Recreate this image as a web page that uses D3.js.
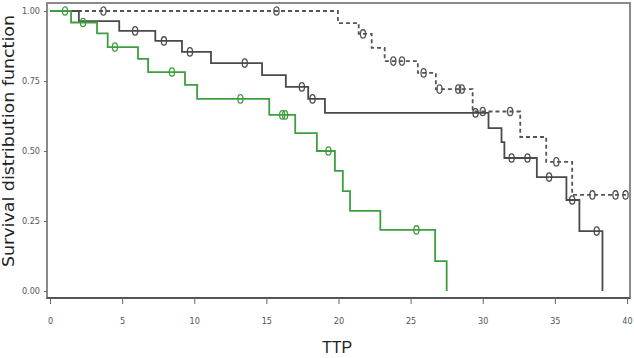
<!DOCTYPE html>
<html>
<head>
<meta charset="utf-8">
<script src="https://cdn.jsdelivr.net/npm/d3@7"></script>
<style>
  body { margin: 0; background: #fff; }
  svg { display: block; }
  .tick text { font-family: "DejaVu Sans Condensed", "DejaVu Sans", sans-serif; font-size: 9px; fill: #555; }
  .title { fill: #222; }
</style>
</head>
<body>
<div id="chart"></div>
<script>
// Kaplan-Meier steps: time of each drop, survival after it
const greenTimes = [0, 1.46, 3.26, 4.0, 6.1, 6.8, 9.36, 10.2, 15.2, 17.0, 18.5, 19.75, 20.3, 20.8, 22.9, 26.7, 27.5];
const greenSurv = [1, 0.959, 0.920, 0.871, 0.829, 0.782, 0.736, 0.686, 0.629, 0.564, 0.500, 0.429, 0.357, 0.286, 0.218, 0.107, 0];
const greenCensor = [1.04, 2.29, 4.5, 8.45, 13.2, 16.1, 16.3, 19.3, 25.4];

const solidTimes = [0, 2.0, 4.8, 7.3, 9.15, 11.16, 14.7, 16.35, 17.9, 19.06, 30.4, 31.3, 31.5, 33.75, 35.8, 36.7, 38.3];
const solidSurv = [1, 0.964, 0.929, 0.893, 0.854, 0.814, 0.771, 0.729, 0.686, 0.636, 0.582, 0.532, 0.475, 0.407, 0.325, 0.214, 0];
const solidCensor = [5.9, 7.9, 9.7, 13.5, 17.46, 18.2, 29.5, 32.0, 33.1, 34.6, 36.2, 37.9];

const dashedTimes = [0, 19.96, 21.4, 22.3, 23.2, 25.5, 26.75, 29.3, 32.6, 34.4, 36.2, 40];
const dashedSurv = [1, 0.957, 0.918, 0.868, 0.821, 0.779, 0.721, 0.641, 0.55, 0.461, 0.343, 0.343];
const dashedCensor = [3.7, 15.7, 21.7, 23.8, 24.4, 25.9, 27.0, 28.3, 28.55, 30.0, 31.9, 35.1, 37.6, 39.2, 39.9];

const xTicks = [0, 5, 10, 15, 20, 25, 30, 35, 40];
const yTicks = [0, 0.25, 0.5, 0.75, 1];

const width = 634, height = 358;
const svg = d3.select('#chart').append('svg')
    .attr('width', width)
    .attr('height', height);

const x = d3.scaleLinear().domain([0, 40]).range([50, 627]);
const y = d3.scaleLinear().domain([0, 1]).range([291, 11]);

// frame
svg.append('rect')
    .attr('x', 47).attr('y', 3)
    .attr('width', 583).attr('height', 295)
    .attr('fill', 'none')
    .attr('stroke', '#8a8a8a')
    .attr('stroke-width', 2);

const xAxis = svg.append('g')
    .attr('transform', 'translate(0,298)')
    .call(d3.axisBottom(x).tickValues(xTicks).tickFormat(d3.format('d')).tickSize(6).tickPadding(14));
xAxis.select('.domain').attr('stroke', '#555').attr('stroke-width', 2).attr('d', 'M47,0H630');
xAxis.selectAll('.tick line').attr('stroke', '#666');

const yAxis = svg.append('g')
    .attr('transform', 'translate(47,0)')
    .call(d3.axisLeft(y).tickValues(yTicks).tickFormat(d3.format('.2f')).tickSize(3).tickPadding(4));
yAxis.select('.domain').remove();
yAxis.selectAll('.tick line').attr('stroke', '#666');

svg.append('text')
    .attr('class', 'title')
    .attr('x', 337).attr('y', 353)
    .attr('text-anchor', 'middle')
    .attr('font-family', '"Liberation Sans", Arial, sans-serif')
    .attr('font-size', 16)
    .text('TTP');

svg.append('text')
    .attr('class', 'title')
    .attr('transform', 'translate(14,141) rotate(-90)')
    .attr('text-anchor', 'middle')
    .attr('font-family', '"DejaVu Sans", sans-serif')
    .attr('font-size', 16)
    .attr('textLength', 252)
    .attr('lengthAdjust', 'spacingAndGlyphs')
    .text('Survival distribution function');

const line = d3.line()
    .x(d => x(d[0]))
    .y(d => y(d[1]))
    .curve(d3.curveStepAfter);

function survAt(times, surv, t) {
    const i = d3.bisectRight(times, t) - 1;
    return surv[Math.max(0, i)];
}

function drawCurve(times, surv, censor, color, dash) {
    const pts = times.map((t, i) => [t, surv[i]]);
    svg.append('path')
        .datum(pts)
        .attr('d', line)
        .attr('fill', 'none')
        .attr('stroke', color)
        .attr('stroke-width', 1.8)
        .attr('stroke-dasharray', dash);
    svg.append('g').selectAll('ellipse')
        .data(censor)
        .enter().append('ellipse')
        .attr('cx', d => x(d))
        .attr('cy', d => y(survAt(times, surv, d)))
        .attr('rx', 2.6)
        .attr('ry', 4.2)
        .attr('fill', 'none')
        .attr('stroke', color)
        .attr('stroke-width', 1.3);
}

drawCurve(dashedTimes, dashedSurv, dashedCensor, '#555', '4,3');
drawCurve(solidTimes, solidSurv, solidCensor, '#4a4a4a', null);
drawCurve(greenTimes, greenSurv, greenCensor, '#3f9e3f', null);
</script>
</body>
</html>
